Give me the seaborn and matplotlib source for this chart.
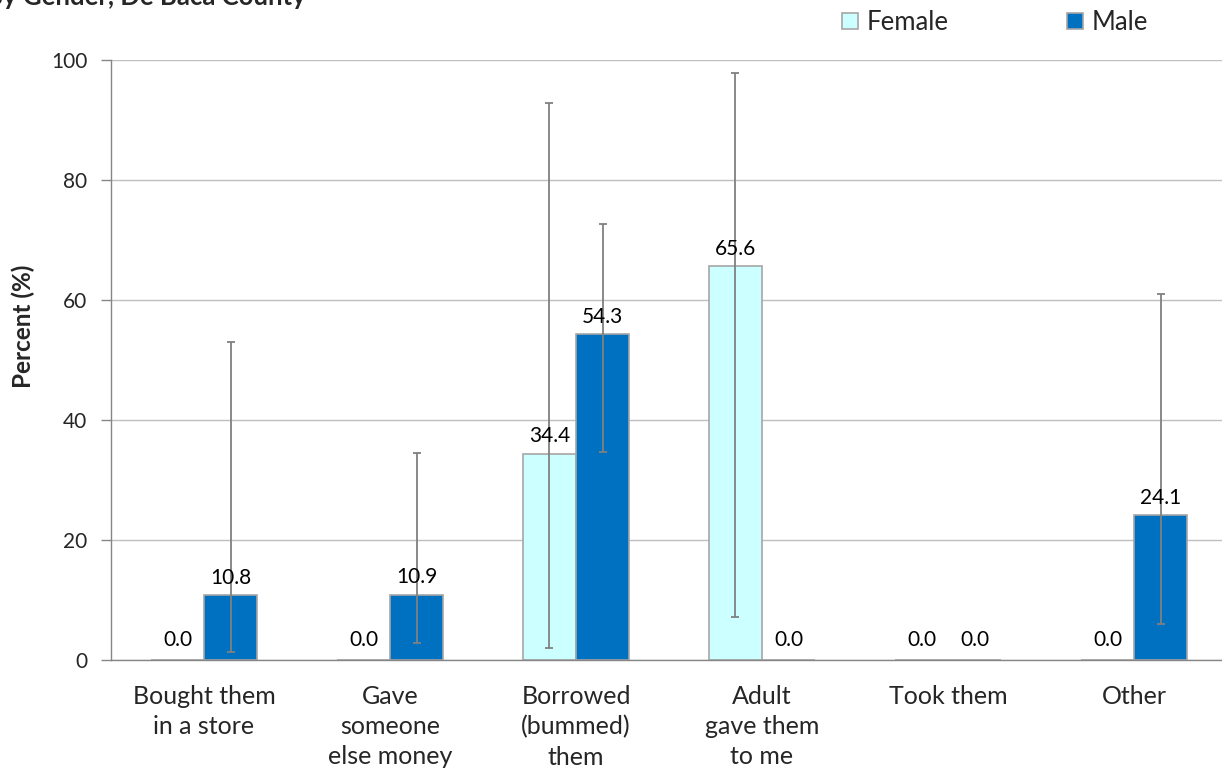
import matplotlib
matplotlib.use("Agg")
import matplotlib.pyplot as plt
import seaborn as sns
import pandas as pd
import numpy as np

categories = ["Bought them\nin a store", "Gave\nsomeone\nelse money", "Borrowed\n(bummed)\nthem",
              "Adult\ngave them\nto me", "Took them", "Other"]
female = [0.0, 0.0, 34.4, 65.6, 0.0, 0.0]
male = [10.8, 10.9, 54.3, 0.0, 0.0, 24.1]
female_lo = [None, None, 2.0, 7.2, None, None]
female_hi = [None, None, 92.8, 97.9, None, None]
male_lo = [1.3, 2.8, 34.7, None, None, 6.0]
male_hi = [53.0, 34.5, 72.6, None, None, 61.0]
yticks = [0, 20, 40, 60, 80, 100]

sns.set_style("white")
plt.rcParams['font.family'] = ['Lato', 'DejaVu Sans']

df = pd.DataFrame({
    "cat": categories * 2,
    "val": female + male,
    "Gender": ["Female"] * 6 + ["Male"] * 6,
})

fig = plt.figure(figsize=(12.22, 7.78), dpi=100)
ax = fig.add_axes([111 / 1222, 1 - 660 / 778, 1116 / 1222, 600 / 778])

sns.barplot(data=df, x="cat", y="val", hue="Gender", order=categories,
            hue_order=["Female", "Male"], palette={"Female": "#CCFFFF", "Male": "#0070C0"},
            saturation=1, width=0.57, edgecolor="#A6A6A6", linewidth=1.2, errorbar=None,
            ax=ax, legend=True)

ax.set_ylim(0, 100)
ax.set_xlim(-0.5, 5.5)
ax.set_yticks(yticks)
ax.yaxis.grid(True, color="#BFBFBF", linewidth=1)
ax.set_axisbelow(True)
for s in ["top", "right"]:
    ax.spines[s].set_visible(False)
for s in ["left", "bottom"]:
    ax.spines[s].set_color("#868686")
    ax.spines[s].set_linewidth(1)

ax.set_xticks(np.arange(6))
ax.set_xticks(np.arange(-0.5, 6.0, 1.0), minor=True)
ax.tick_params(axis="x", which="major", length=0, pad=18, labelsize=18)
ax.tick_params(axis="x", which="minor", length=7, color="#868686", width=1)
ax.tick_params(axis="y", length=7, color="#868686", width=1, labelsize=15, pad=10, left=True)
ax.set_xticklabels(categories, linespacing=1.38, va="top")
ax.set_xlabel("")
ax.set_ylabel("Percent (%)", fontsize=17.5, fontweight="bold")
ax.yaxis.label.set_va("center")
ax.yaxis.label.set_ha("center")
ax.yaxis.set_label_coords((23 - 111) / 1116, (660 - 326.5) / 600)

for ci, (vals, lo, hi) in enumerate([(female, female_lo, female_hi), (male, male_lo, male_hi)]):
    cont = ax.containers[ci]
    for i, rect in enumerate(cont):
        xc = rect.get_x() + rect.get_width() / 2
        v = vals[i]
        if lo[i] is not None:
            ax.errorbar(xc, v, yerr=[[v - lo[i]], [hi[i] - v]], fmt="none",
                        ecolor="#808080", elinewidth=1.3, capsize=3, capthick=1.3, zorder=5)
        off = 8 if v > 0 else 10
        ax.annotate(f"{v:.1f}", (xc, v), xytext=(0, off), textcoords="offset points",
                    ha="center", va="baseline", fontsize=15, color="#000000", zorder=6)

leg = ax.legend(loc="upper left", bbox_to_anchor=(842 / 1222, 1 - 10 / 778),
                bbox_transform=fig.transFigure,
                ncol=2, frameon=False, fontsize=18.5, handlelength=0.62, handleheight=0.62,
                columnspacing=4.6, handletextpad=0.35, borderaxespad=0, borderpad=0)
for h in leg.legend_handles:
    h.set_edgecolor("#A6A6A6")

fig.text(-14 / 1222, 1 - 5 / 778, "By Gender, De Baca County", fontsize=18.5, fontweight="bold",
         ha="left", va="baseline")

fig.savefig("out.png", dpi=100)
